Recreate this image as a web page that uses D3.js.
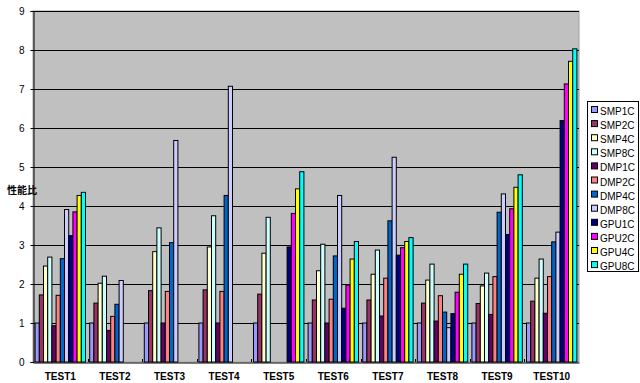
<!DOCTYPE html>
<html>
<head>
<meta charset="utf-8">
<script src="https://cdn.jsdelivr.net/npm/d3@7"></script>
<style>
  body { margin: 0; background: #fff; }
  svg { display: block; font-family: "Liberation Sans", Arial, sans-serif; }
</style>
</head>
<body>
<div class="vis-barchart"></div>
<script>
// categories and series
const categories = ["TEST1", "TEST2", "TEST3", "TEST4", "TEST5", "TEST6", "TEST7", "TEST8", "TEST9", "TEST10"];
const seriesNames = ["SMP1C", "SMP2C", "SMP4C", "SMP8C", "DMP1C", "DMP2C", "DMP4C", "DMP8C", "GPU1C", "GPU2C", "GPU4C", "GPU8C"];
const seriesColors = ["#9999ff", "#993366", "#ffffcc", "#ccffff", "#660066", "#ff8080", "#0066cc", "#ccccff", "#000080", "#ff00ff", "#ffff00", "#00ffff"];
const yTicks = [0, 1, 2, 3, 4, 5, 6, 7, 8, 9];

// values per series, one entry per test (null = no bar)
const SMP1C = [1.00, 1.00, 1.00, 1.00, 1.00, 1.00, 1.00, 1.00, 1.00, 1.00];
const SMP2C = [1.72, 1.51, 1.83, 1.85, 1.74, 1.59, 1.59, 1.51, 1.50, 1.56];
const SMP4C = [2.46, 2.02, 2.83, 2.95, 2.79, 2.34, 2.25, 2.10, 1.95, 2.15];
const SMP8C = [2.69, 2.20, 3.44, 3.75, 3.71, 3.02, 2.87, 2.51, 2.28, 2.64];
const DMP1C = [0.93, 0.81, 1.00, 1.00, null, 1.00, 1.18, 1.05, 1.22, 1.25];
const DMP2C = [1.71, 1.17, 1.81, 1.81, null, 1.61, 2.15, 1.70, 2.19, 2.19];
const DMP4C = [2.65, 1.48, 3.06, 4.27, null, 2.72, 3.62, 1.28, 3.84, 3.08];
const DMP8C = [3.91, 2.09, 5.68, 7.07, null, 4.27, 5.25, 0.88, 4.31, 3.33];
const GPU1C = [3.24, null, null, null, 2.95, 1.38, 2.74, 1.24, 3.27, 6.19];
const GPU2C = [3.85, null, null, null, 3.81, 1.97, 2.93, 1.79, 3.93, 7.13];
const GPU4C = [4.27, null, null, null, 4.44, 2.64, 3.09, 2.25, 4.48, 7.71];
const GPU8C = [4.35, null, null, null, 4.88, 3.09, 3.19, 2.51, 4.80, 8.03];
const seriesValues = [SMP1C, SMP2C, SMP4C, SMP8C, DMP1C, DMP2C, DMP4C, DMP8C, GPU1C, GPU2C, GPU4C, GPU8C];

const W = 640, H = 383;
const plot = { left: 33, right: 579, top: 11, bottom: 362 };

const svg = d3.select(".vis-barchart")
    .append("svg")
    .attr("width", W)
    .attr("height", H);

// scales
const x0 = d3.scaleBand()
    .domain(categories)
    .range([plot.left, plot.right]);
const bw = x0.bandwidth();
const x1 = d3.scaleBand()
    .domain(seriesNames)
    .range([bw / 26, bw - bw / 26]);
const y = d3.scaleLinear()
    .domain([0, 9])
    .range([plot.bottom, plot.top]);

// plot area
svg.append("rect")
    .attr("x", plot.left)
    .attr("y", plot.top)
    .attr("width", plot.right - plot.left)
    .attr("height", plot.bottom - plot.top)
    .attr("fill", "#c0c0c0")
    .attr("stroke", "#a0a0a0")
    .attr("stroke-width", 1);

// gridlines
svg.append("g")
    .selectAll("line")
    .data(yTicks.filter(d => d > 0))
    .join("line")
    .attr("x1", plot.left)
    .attr("x2", plot.right)
    .attr("y1", d => Math.round(y(d)) + 0.5)
    .attr("y2", d => Math.round(y(d)) + 0.5)
    .attr("stroke", "#000")
    .attr("stroke-width", 1);

// bars
const rows = [];
categories.forEach((c, i) => {
    seriesNames.forEach((s, j) => {
        const v = seriesValues[j][i];
        if (v !== null) rows.push({ cat: c, series: s, value: v, color: seriesColors[j] });
    });
});

svg.append("g")
    .selectAll("rect")
    .data(rows)
    .join("rect")
    .attr("x", d => x0(d.cat) + x1(d.series))
    .attr("y", d => y(d.value))
    .attr("width", x1.bandwidth())
    .attr("height", d => y(0) - y(d.value))
    .attr("fill", d => d.color)
    .attr("stroke", "#000")
    .attr("stroke-width", 1);

// Y axis
const yAxis = svg.append("g")
    .attr("transform", "translate(" + (plot.left + 0.5) + ",0)")
    .call(d3.axisLeft(y).tickValues(yTicks).tickSize(3).tickPadding(6).tickFormat(d3.format("d")));
yAxis.select(".domain").attr("stroke", "#000");
yAxis.selectAll("text")
    .attr("font-size", 10)
    .attr("font-family", "Liberation Sans, Arial, sans-serif")
    .attr("fill", "#000");

// X axis
const xAxis = svg.append("g")
    .attr("transform", "translate(0," + (plot.bottom + 0.5) + ")")
    .call(d3.axisBottom(x0).tickSize(0).tickPadding(10));
xAxis.select(".domain").attr("stroke", "#000");
xAxis.selectAll("text")
    .attr("font-size", 10)
    .attr("font-weight", "bold")
    .attr("font-family", "Liberation Sans, Arial, sans-serif")
    .attr("fill", "#000");

// category separators (inward ticks)
svg.append("g")
    .selectAll("line")
    .data(categories.slice(1))
    .join("line")
    .attr("x1", d => Math.round(x0(d)) + 0.5)
    .attr("x2", d => Math.round(x0(d)) + 0.5)
    .attr("y1", plot.bottom)
    .attr("y2", plot.bottom - 3)
    .attr("stroke", "#000");

// Y title
svg.append("text")
    .attr("x", 7)
    .attr("y", 194)
    .attr("font-size", 10)
    .attr("font-weight", "bold")
    .attr("font-family", "Noto Sans CJK JP, sans-serif")
    .attr("fill", "#000")
    .text("性能比");

// legend
const legend = svg.append("g").attr("transform", "translate(587,101)");
legend.append("rect")
    .attr("x", 0.5)
    .attr("y", 0.5)
    .attr("width", 51)
    .attr("height", 170)
    .attr("fill", "#fff")
    .attr("stroke", "#000");
const item = legend.selectAll("g.item")
    .data(seriesNames)
    .join("g")
    .attr("class", "item")
    .attr("transform", (d, i) => "translate(4," + (10 + i * 14.1) + ")");
item.append("rect")
    .attr("x", 0.5)
    .attr("y", -4.5)
    .attr("width", 6)
    .attr("height", 6)
    .attr("fill", (d, i) => seriesColors[i])
    .attr("stroke", "#000");
item.append("text")
    .attr("x", 9)
    .attr("y", 4)
    .attr("font-size", 10)
    .attr("fill", "#000")
    .text(d => d);
</script>
</body>
</html>
